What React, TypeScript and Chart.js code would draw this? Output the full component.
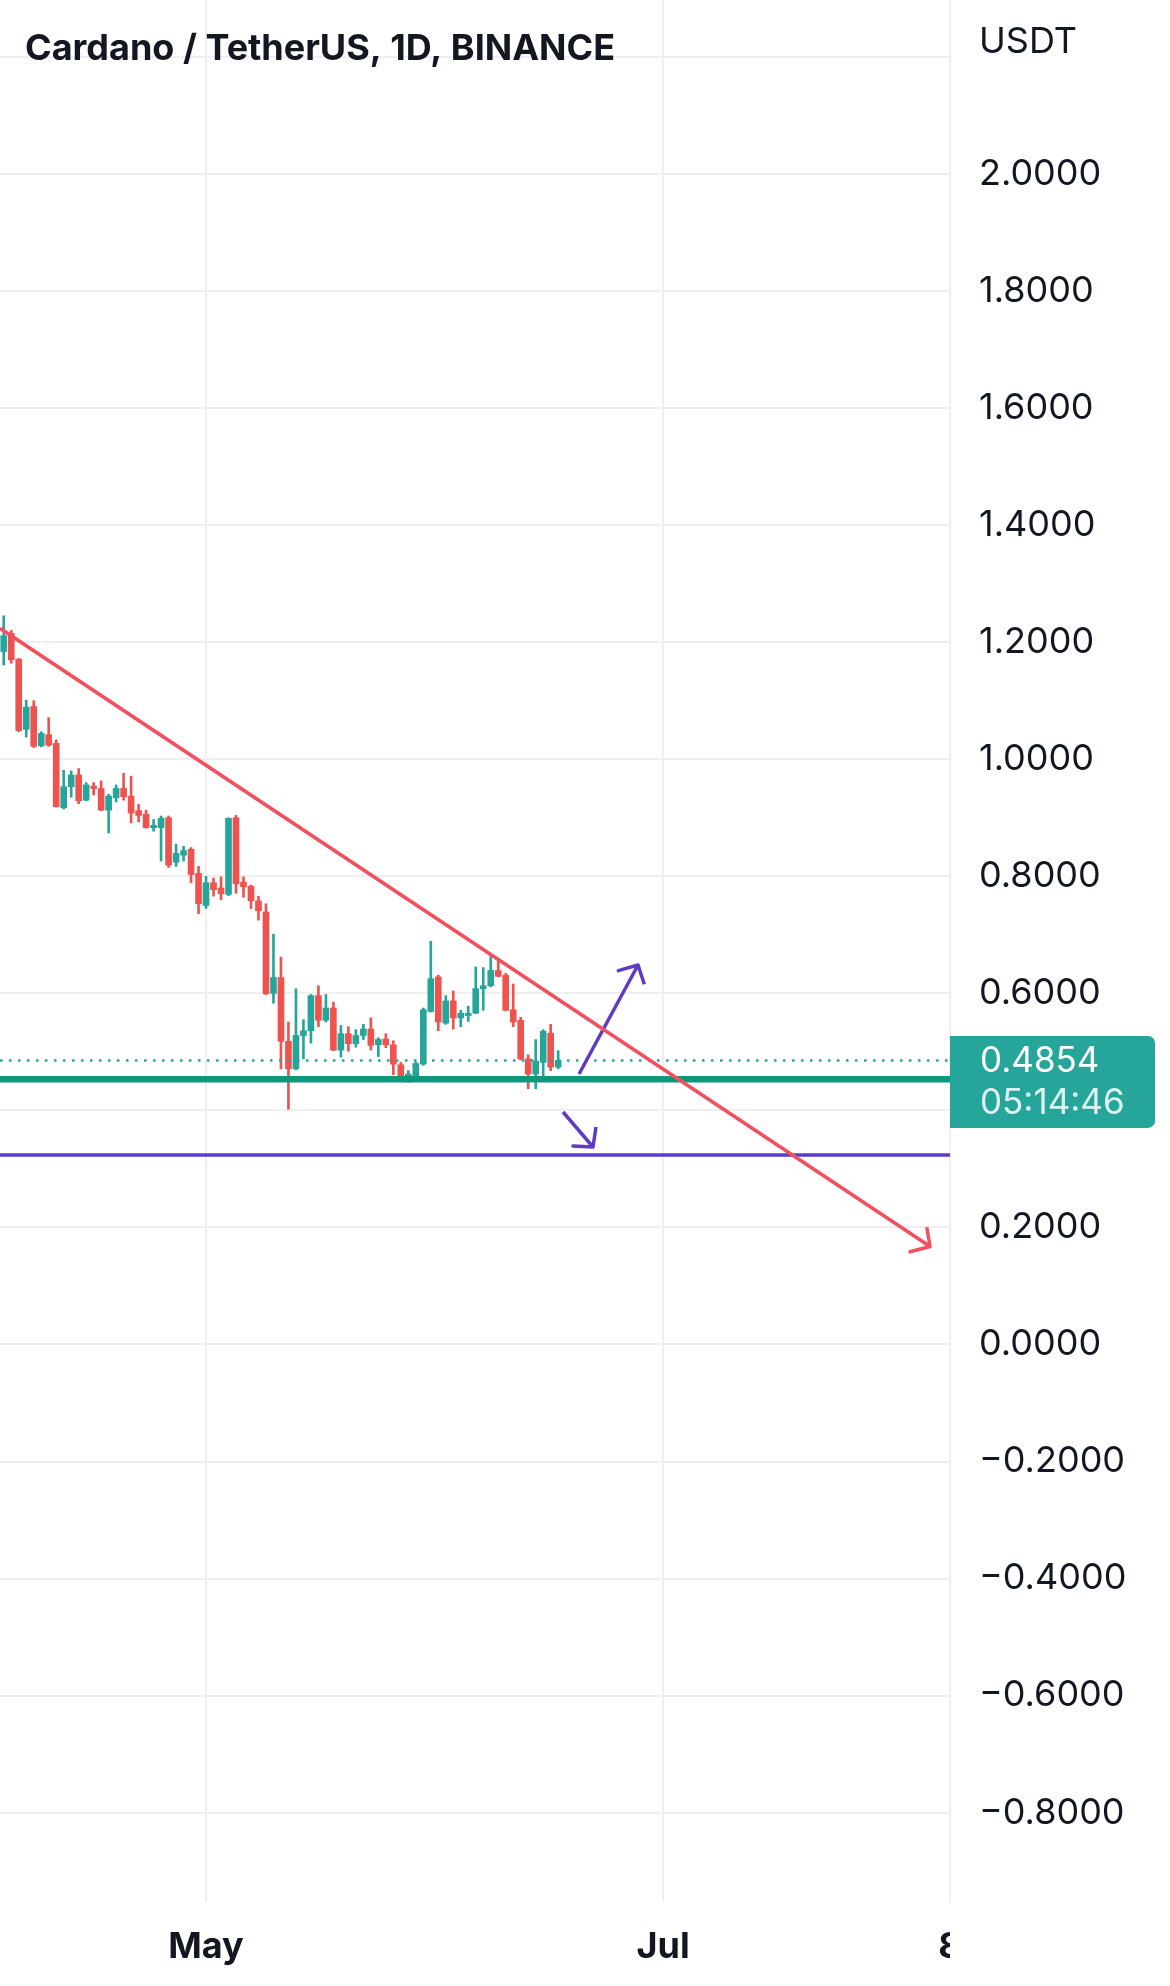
import React, { useEffect, useRef } from 'react';
import { Chart, registerables } from 'chart.js';

Chart.register(...registerables);

// ---------- DATA ----------
const dates = [
  '2022-04-04','2022-04-05','2022-04-06','2022-04-07','2022-04-08','2022-04-09','2022-04-10',
  '2022-04-11','2022-04-12','2022-04-13','2022-04-14','2022-04-15','2022-04-16','2022-04-17',
  '2022-04-18','2022-04-19','2022-04-20','2022-04-21','2022-04-22','2022-04-23','2022-04-24',
  '2022-04-25','2022-04-26','2022-04-27','2022-04-28','2022-04-29','2022-04-30',
  '2022-05-01','2022-05-02','2022-05-03','2022-05-04','2022-05-05','2022-05-06','2022-05-07',
  '2022-05-08','2022-05-09','2022-05-10','2022-05-11','2022-05-12','2022-05-13','2022-05-14',
  '2022-05-15','2022-05-16','2022-05-17','2022-05-18','2022-05-19','2022-05-20','2022-05-21',
  '2022-05-22','2022-05-23','2022-05-24','2022-05-25','2022-05-26','2022-05-27','2022-05-28',
  '2022-05-29','2022-05-30','2022-05-31',
  '2022-06-01','2022-06-02','2022-06-03','2022-06-04','2022-06-05','2022-06-06','2022-06-07',
  '2022-06-08','2022-06-09','2022-06-10','2022-06-11','2022-06-12','2022-06-13','2022-06-14',
  '2022-06-15','2022-06-16','2022-06-17',
];

const opens = [
  1.184, 1.215, 1.171, 1.051, 1.090, 1.023, 1.042, 1.027, 0.917, 0.953,
  0.973, 0.930, 0.954, 0.950, 0.913, 0.934, 0.950, 0.937, 0.912, 0.906,
  0.883, 0.883, 0.900, 0.824, 0.836, 0.846, 0.805, 0.750, 0.789, 0.780,
  0.769, 0.900, 0.790, 0.783, 0.758, 0.739, 0.600, 0.627, 0.518, 0.471,
  0.528, 0.536, 0.596, 0.554, 0.575, 0.503, 0.531, 0.514, 0.528, 0.539,
  0.512, 0.522, 0.512, 0.478, 0.457, 0.458, 0.479, 0.569, 0.628, 0.549,
  0.587, 0.558, 0.562, 0.566, 0.608, 0.613, 0.639, 0.631, 0.572, 0.554,
  0.488, 0.462, 0.482, 0.532, 0.474,
];
const highs = [
  1.245, 1.220, 1.172, 1.101, 1.100, 1.047, 1.071, 1.033, 0.981, 0.980,
  0.984, 0.960, 0.960, 0.963, 0.940, 0.956, 0.976, 0.971, 0.923, 0.913,
  0.897, 0.903, 0.903, 0.855, 0.851, 0.849, 0.817, 0.800, 0.797, 0.799,
  0.900, 0.904, 0.799, 0.785, 0.766, 0.753, 0.701, 0.662, 0.551, 0.608,
  0.555, 0.598, 0.613, 0.598, 0.585, 0.545, 0.543, 0.538, 0.547, 0.558,
  0.524, 0.531, 0.519, 0.482, 0.468, 0.483, 0.575, 0.689, 0.631, 0.596,
  0.604, 0.571, 0.578, 0.645, 0.644, 0.667, 0.657, 0.634, 0.616, 0.559,
  0.495, 0.521, 0.538, 0.547, 0.502,
];
const lows = [
  1.161, 1.164, 1.047, 1.038, 1.020, 1.021, 1.022, 0.918, 0.915, 0.935,
  0.924, 0.929, 0.939, 0.912, 0.874, 0.927, 0.930, 0.891, 0.893, 0.882,
  0.877, 0.826, 0.815, 0.817, 0.826, 0.789, 0.736, 0.745, 0.766, 0.760,
  0.767, 0.771, 0.764, 0.745, 0.725, 0.598, 0.583, 0.471, 0.402, 0.469,
  0.488, 0.515, 0.543, 0.551, 0.502, 0.491, 0.501, 0.508, 0.521, 0.503,
  0.492, 0.507, 0.461, 0.454, 0.448, 0.457, 0.477, 0.568, 0.536, 0.547,
  0.539, 0.543, 0.552, 0.565, 0.571, 0.611, 0.628, 0.570, 0.543, 0.486,
  0.437, 0.437, 0.456, 0.468, 0.471,
];
const closes = [
  1.211, 1.170, 1.049, 1.089, 1.022, 1.044, 1.024, 0.919, 0.953, 0.973,
  0.929, 0.956, 0.950, 0.913, 0.937, 0.950, 0.936, 0.908, 0.904, 0.883,
  0.887, 0.899, 0.819, 0.839, 0.844, 0.803, 0.753, 0.789, 0.777, 0.770,
  0.899, 0.787, 0.782, 0.758, 0.741, 0.599, 0.627, 0.518, 0.471, 0.528,
  0.536, 0.596, 0.554, 0.575, 0.503, 0.531, 0.514, 0.528, 0.539, 0.511,
  0.521, 0.512, 0.479, 0.457, 0.462, 0.480, 0.572, 0.625, 0.551, 0.587,
  0.558, 0.566, 0.566, 0.608, 0.613, 0.639, 0.629, 0.571, 0.551, 0.488,
  0.462, 0.484, 0.535, 0.474, 0.4854,
];

// x positions are days counted from 1 May 2022
const xRange = [-27.5, 99.3];
const xTickDays = [0, 61, 99.3];
const xTickLabels = ['May', 'Jul', '8'];

const yRange = [-0.9526, 2.2972];
const yTickValues = [-0.8, -0.6, -0.4, -0.2, 0.0, 0.2, 0.4, 0.6, 0.8, 1.0, 1.2, 1.4, 1.6, 1.8, 2.0, 2.2];
const yTickLabels = ['−0.8000', '−0.6000', '−0.4000', '−0.2000', '0.0000', '0.2000', '', '0.6000', '0.8000', '1.0000', '1.2000', '1.4000', '1.6000', '1.8000', '2.0000', ''];

const titleText = 'Cardano / TetherUS, 1D, BINANCE';
const currencyText = 'USDT';
const lastPrice = 0.4854;
const lastPriceText = '0.4854';
const countdownText = '05:14:46';

const supportLevel = 0.453;
const targetLevel = 0.3238;

const trendDays = [-27.5, 96.64, 93.97, 96.64, 96.2];
const trendPrices = [1.2237, 0.1674, 0.1585, 0.1674, 0.2002];
const upArrowDays = [49.79, 57.66, 55.03, 57.66, 58.5];
const upArrowPrices = [0.4622, 0.6484, 0.6387, 0.6484, 0.6154];
const downArrowDays = [47.65, 51.65, 48.98, 51.65, 52.05];
const downArrowPrices = [0.3972, 0.3374, 0.3391, 0.3374, 0.3716];

// ---------- STYLE ----------
const FONT = 'Inter, "Noto Sans", sans-serif';
const TEXT = '#131722';
const UP = '#26a69a';
const DOWN = '#ef5350';
const GRID = '#efefef';
const TREND = '#f2505f';
const PURPLE = '#5e3bc4';
const SUPPORT = '#0f977c';
const BOX = '#26a69a';

function dayOffset(s: string): number {
  const [y, m, d] = s.split('-').map(Number);
  return (Date.UTC(y, m - 1, d) - Date.UTC(2022, 4, 1)) / 86400000;
}

function pts(xs: number[], ys: number[]) {
  return xs.map((x, i) => ({ x, y: ys[i] }));
}

export default function App() {
  const ref = useRef<HTMLCanvasElement>(null);

  useEffect(() => {
    document.body.style.margin = '0';
    const canvas = ref.current;
    if (!canvas) return;

    const xs = dates.map(dayOffset);
    const colors = closes.map((c, i) => (c >= opens[i] ? UP : DOWN));
    const wickData = xs.map((x, i) => ({ x, y: [lows[i], highs[i]] }));
    const bodyData = xs.map((x, i) => ({ x, y: [opens[i], closes[i]] }));

    const lineBase = {
      type: 'line' as const,
      pointRadius: 0,
      pointHoverRadius: 0,
      fill: false,
      tension: 0,
      borderJoinStyle: 'round' as const,
      borderCapStyle: 'butt' as const,
      order: 0,
    };

    const overlay = {
      id: 'overlay',
      afterDraw(chart: any) {
        const ctx = chart.ctx as CanvasRenderingContext2D;
        const xScale = chart.scales.x;
        const yScale = chart.scales.y;
        const area = chart.chartArea;
        ctx.save();

        // x labels, clipped at the price axis
        ctx.save();
        ctx.beginPath();
        ctx.rect(0, area.bottom, area.right, chart.height - area.bottom);
        ctx.clip();
        ctx.fillStyle = TEXT;
        ctx.font = `bold 36px ${FONT}`;
        ctx.textAlign = 'center';
        ctx.textBaseline = 'middle';
        xTickDays.forEach((d, i) => {
          ctx.fillText(xTickLabels[i], xScale.getPixelForValue(d), 1947);
        });
        ctx.restore();

        // title
        ctx.fillStyle = TEXT;
        ctx.font = `bold 36px ${FONT}`;
        ctx.textAlign = 'left';
        ctx.textBaseline = 'middle';
        ctx.fillText(titleText, 25, 49);

        // currency
        ctx.font = `36px ${FONT}`;
        ctx.fillText(currencyText, area.right + 29, 42);

        // last price box
        const py = yScale.getPixelForValue(lastPrice);
        const bx = area.right;
        const by = py - 24.5;
        const bw = 1155 - area.right;
        const bh = 92;
        ctx.fillStyle = BOX;
        ctx.beginPath();
        (ctx as any).roundRect(bx, by, bw, bh, [0, 7, 7, 0]);
        ctx.fill();
        ctx.fillStyle = '#ffffff';
        ctx.font = `35px ${FONT}`;
        ctx.textBaseline = 'middle';
        ctx.fillText(lastPriceText, area.right + 30, py + 1);
        ctx.fillStyle = 'rgba(255,255,255,0.85)';
        ctx.fillText(countdownText, area.right + 30, py + 43);
        ctx.restore();
      },
    };

    const chart = new Chart(canvas, {
      type: 'line',
      data: {
        datasets: [
          { ...lineBase, label: 'trend', data: pts(trendDays, trendPrices), borderColor: TREND, borderWidth: 3.5 },
          { ...lineBase, label: 'up', data: pts(upArrowDays, upArrowPrices), borderColor: PURPLE, borderWidth: 3.5 },
          { ...lineBase, label: 'down', data: pts(downArrowDays, downArrowPrices), borderColor: PURPLE, borderWidth: 3.5 },
          { ...lineBase, label: 'target', data: pts(xRange, [targetLevel, targetLevel]), borderColor: PURPLE, borderWidth: 3.5 },
          { ...lineBase, label: 'support', data: pts(xRange, [supportLevel, supportLevel]), borderColor: SUPPORT, borderWidth: 6.5, order: 1 },
          { ...lineBase, label: 'last', data: pts(xRange, [lastPrice, lastPrice]), borderColor: UP, borderWidth: 2.5, borderDash: [2.5, 6.5], order: 1 },
          { type: 'bar', label: 'wicks', data: wickData as any, backgroundColor: colors, barThickness: 2, grouped: false, borderWidth: 0, order: 3 } as any,
          { type: 'bar', label: 'bodies', data: bodyData as any, backgroundColor: colors, barThickness: 6, grouped: false, borderWidth: 0, order: 2 } as any,
        ],
      },
      options: {
        responsive: false,
        animation: false,
        events: [],
        layout: { padding: 0, autoPadding: false },
        plugins: { legend: { display: false }, tooltip: { enabled: false }, title: { display: false } },
        scales: {
          x: {
            type: 'linear',
            position: 'bottom',
            min: xRange[0],
            max: xRange[1],
            offset: false,
            grid: { color: GRID, lineWidth: 2, drawTicks: false, offset: false },
            border: { display: false },
            ticks: { display: false },
            afterBuildTicks: (s: any) => { s.ticks = xTickDays.map((v) => ({ value: v })); },
            afterFit: (s: any) => {
              s.height = 84;
              s.paddingLeft = 0; s.paddingRight = 0; s.paddingTop = 0; s.paddingBottom = 0;
            },
          },
          y: {
            type: 'linear',
            position: 'right',
            min: yRange[0],
            max: yRange[1],
            grid: { color: GRID, lineWidth: 2, drawTicks: false },
            border: { display: true, color: GRID, width: 2 },
            ticks: {
              padding: 29,
              color: TEXT,
              font: { family: FONT, size: 36 },
              autoSkip: false,
              callback: (v: any) => {
                const idx = yTickValues.findIndex((t) => Math.abs(t - Number(v)) < 1e-6);
                return idx >= 0 ? yTickLabels[idx] : '';
              },
            },
            afterBuildTicks: (s: any) => { s.ticks = yTickValues.map((v) => ({ value: v })); },
            afterFit: (s: any) => {
              s.width = 220;
              s.paddingLeft = 0; s.paddingRight = 0; s.paddingTop = 0; s.paddingBottom = 0;
            },
          },
        },
      } as any,
      plugins: [overlay],
    });

    return () => chart.destroy();
  }, []);

  return (
    <div style={{ width: 1170, height: 1986, background: '#ffffff' }}>
      <canvas ref={ref} width={1170} height={1986} style={{ display: 'block' }} />
    </div>
  );
}
